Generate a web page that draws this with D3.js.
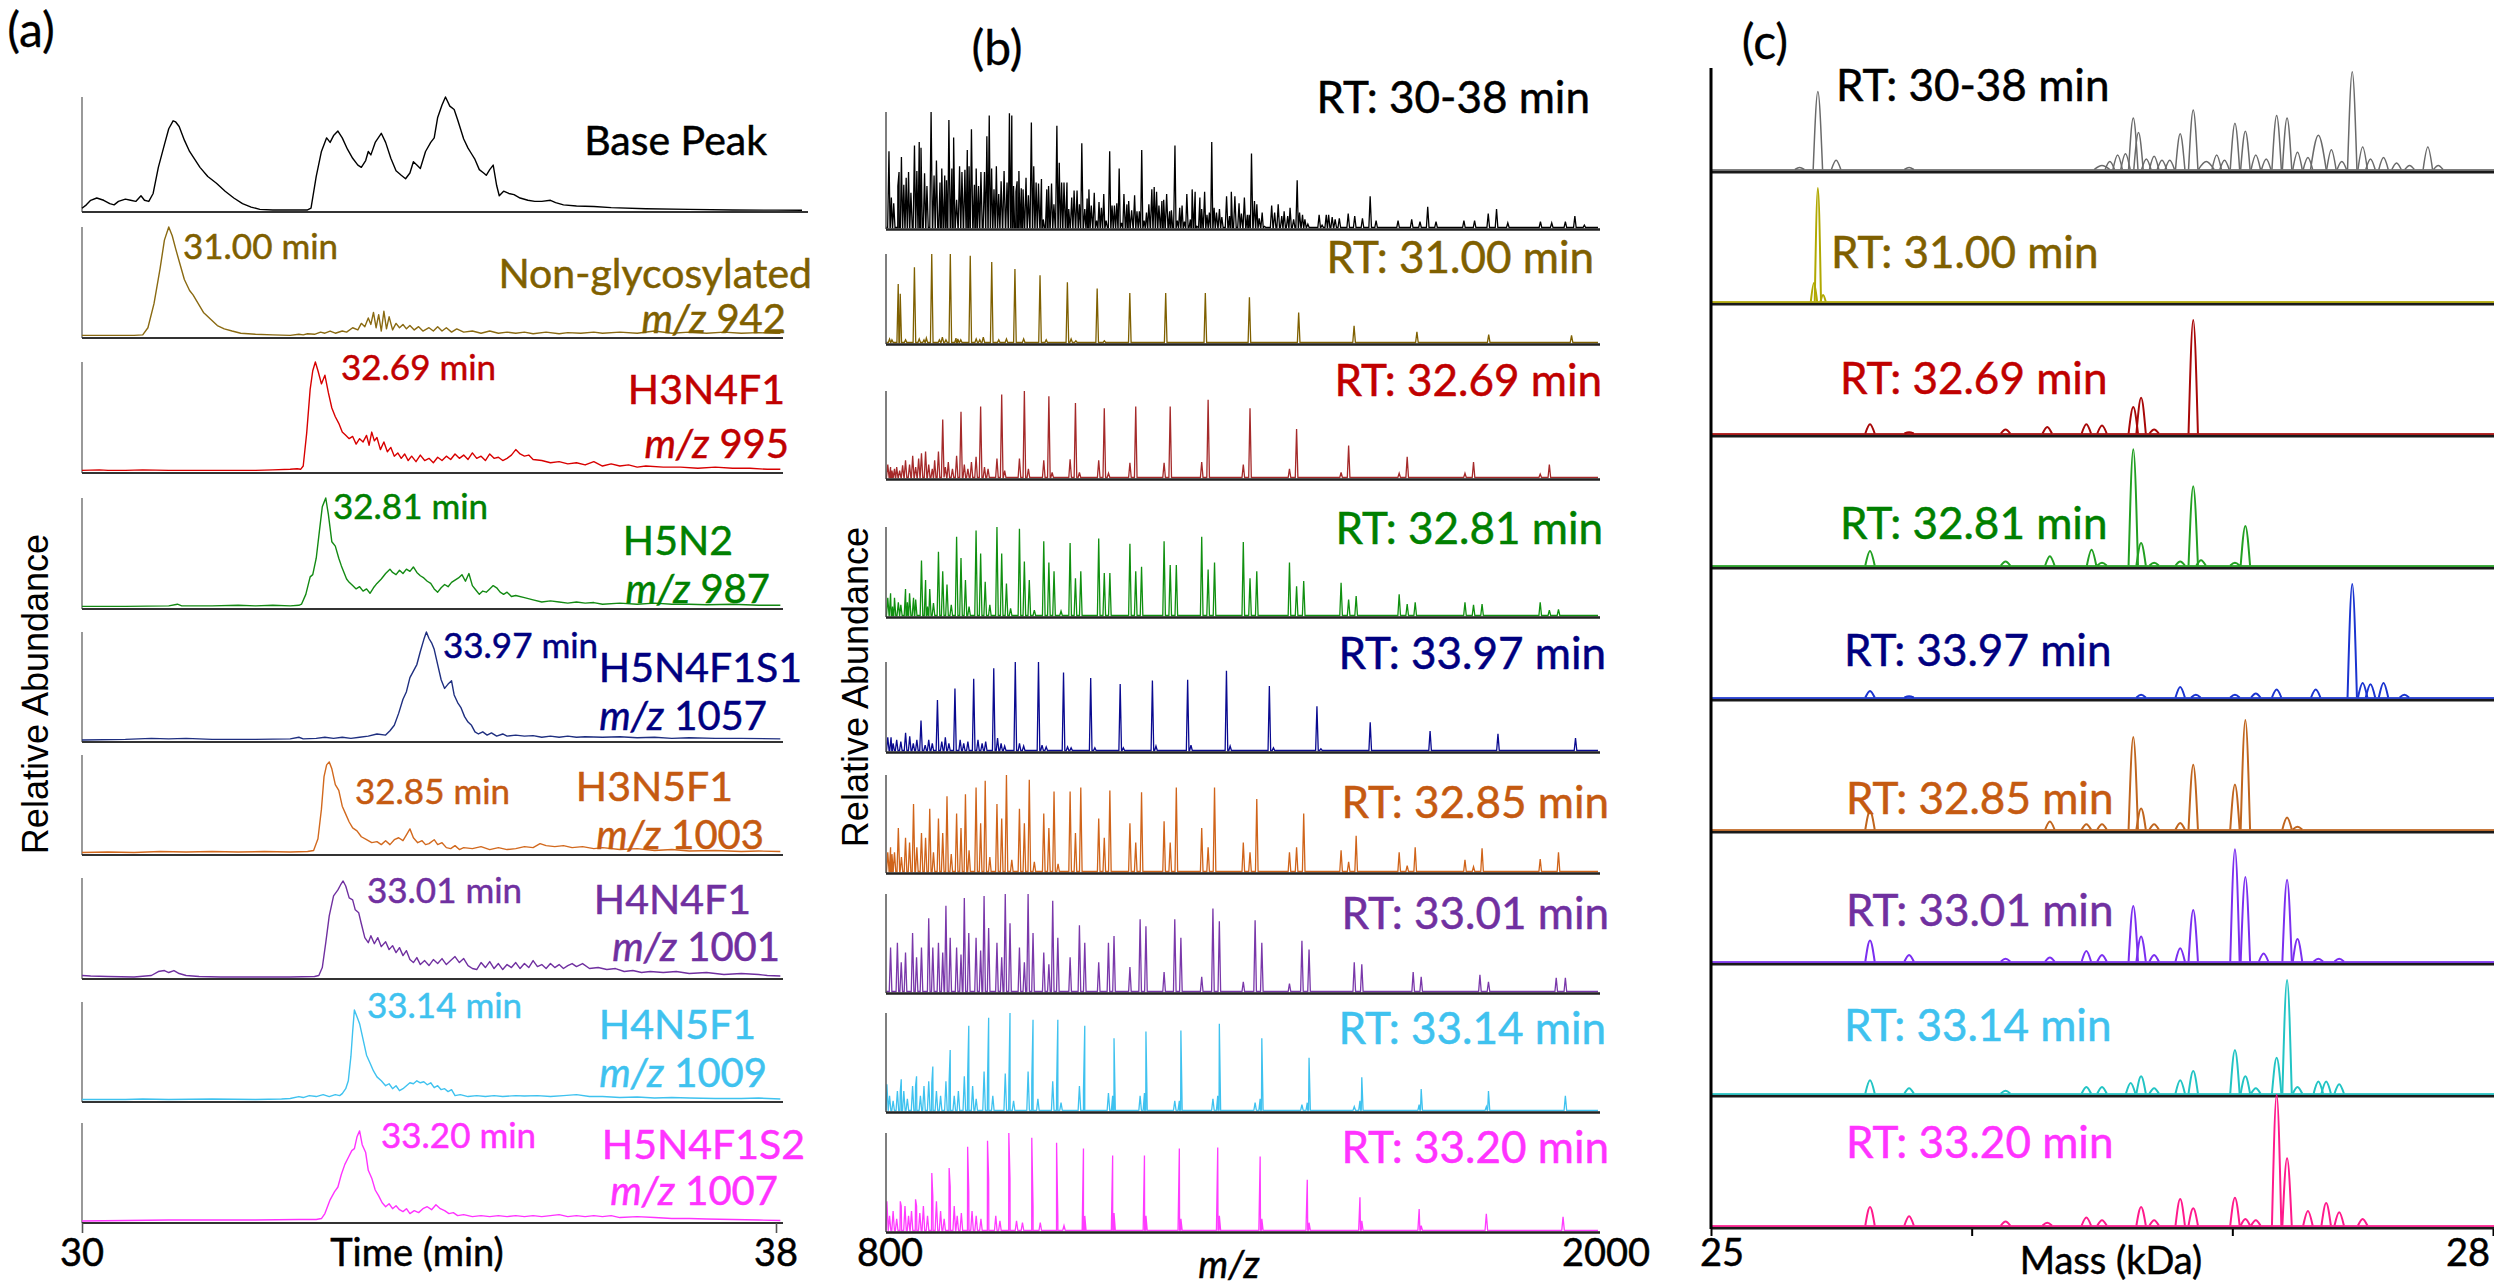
<!DOCTYPE html>
<html>
<head>
<meta charset="utf-8">
<script src="https://cdn.jsdelivr.net/npm/d3@7"></script>
<style>
  html, body { margin: 0; padding: 0; background: #ffffff; }
  svg { display: block; }
</style>
</head>
<body>
<script>
// ---------------------------------------------------------------
// Sample rows (top to bottom) and their annotations
// ---------------------------------------------------------------
const rowNames = ["Base Peak", "Non-glycosylated", "H3N4F1", "H5N2", "H5N4F1S1",
                  "H3N5F1", "H4N4F1", "H4N5F1", "H5N4F1S2"];
const retentionTimes = ["30-38", "31.00", "32.69", "32.81", "33.97", "32.85", "33.01", "33.14", "33.20"];
const precursorMz = [null, 942, 995, 987, 1057, 1003, 1001, 1009, 1007];

const timeTicks = [30, 38];
const mzTicks = [800, 2000];
const massTicks = [25, 26, 27, 28];
const massTickLabels = [25, 28];

// ---------------------------------------------------------------
// (a) extracted ion chromatograms: [time (min), relative abundance]
// ---------------------------------------------------------------
const xicBasePeak = [[30.0,2],[30.05,5],[30.1,9],[30.17,11],[30.25,9],[30.32,6],[30.37,5],[30.42,8],[30.5,10],[30.56,9],[30.62,8],[30.68,13],[30.72,9],[30.77,8],[30.82,15],[30.88,38],[30.95,58],[31.0,72],[31.05,79],[31.08,78],[31.12,74],[31.18,62],[31.24,52],[31.3,45],[31.36,38],[31.45,30],[31.55,24],[31.65,17],[31.75,11],[31.85,6],[31.95,3],[32.05,1],[32.2,0.5],[32.6,0.5],[32.64,2],[32.7,30],[32.76,52],[32.82,64],[32.86,60],[32.9,66],[32.95,70],[33.0,64],[33.06,54],[33.12,46],[33.18,40],[33.22,38],[33.27,44],[33.3,52],[33.33,49],[33.38,60],[33.45,68],[33.5,60],[33.56,46],[33.62,35],[33.68,31],[33.73,28],[33.78,33],[33.82,43],[33.86,40],[33.9,37],[33.96,52],[34.02,60],[34.06,64],[34.1,82],[34.15,93],[34.19,100],[34.24,92],[34.29,89],[34.33,80],[34.4,63],[34.45,55],[34.49,50],[34.53,45],[34.58,36],[34.63,33],[34.66,31],[34.7,36],[34.74,40],[34.78,22],[34.81,13],[34.86,17],[34.92,15],[34.98,14],[35.05,11],[35.14,9],[35.22,8],[35.3,8],[35.4,9],[35.46,7],[35.55,5],[35.7,4],[35.9,3.5],[36.1,2.5],[36.5,1.5],[37.0,1],[37.5,0.5],[38.0,0.3],[38.3,0.2]];

const xicNonGlyco = [[30.0,1],[30.3,1],[30.6,1],[30.7,1.5],[30.76,8],[30.83,30],[30.9,62],[30.95,88],[31.0,100],[31.04,92],[31.08,80],[31.13,66],[31.18,52],[31.24,42],[31.28,38],[31.34,30],[31.4,22],[31.48,16],[31.56,10],[31.64,7],[31.73,5],[31.83,3],[32.0,2],[32.2,1.5],[32.4,1],[32.5,2],[32.55,1.5],[32.6,2.5],[32.68,2],[32.75,4],[32.8,3],[32.86,5],[32.92,3],[33.0,5],[33.05,4],[33.12,8],[33.18,6],[33.22,12],[33.26,9],[33.3,17],[33.33,11],[33.36,22],[33.39,8],[33.42,20],[33.45,5],[33.48,23],[33.51,7],[33.54,18],[33.58,6],[33.62,12],[33.66,8],[33.7,11],[33.74,7],[33.78,10],[33.83,6],[33.88,9],[33.93,5],[34.0,8],[34.05,5],[34.1,9],[34.15,5],[34.2,8],[34.26,4],[34.32,7],[34.4,4],[34.5,5],[34.6,3],[34.7,5],[34.8,3],[34.9,4],[35.0,3],[35.1,4],[35.2,2.5],[35.35,4],[35.5,2.5],[35.6,3.5],[35.75,3],[35.9,4],[36.0,3],[36.2,4],[36.4,3],[36.6,5],[36.8,3],[37.0,4],[37.2,3],[37.4,4],[37.6,3],[37.8,3.5],[38.0,3],[38.05,3]];

const xicH3N4F1 = [[30.0,1],[30.2,1.5],[30.3,1],[30.5,1],[30.7,1.5],[31.0,1],[31.3,1],[31.7,1],[32.0,1],[32.2,1.5],[32.4,2],[32.48,2.5],[32.52,2],[32.55,5],[32.59,35],[32.63,75],[32.66,92],[32.69,100],[32.72,92],[32.76,80],[32.8,88],[32.84,72],[32.88,58],[32.92,50],[32.96,44],[33.0,36],[33.04,33],[33.08,30],[33.12,32],[33.16,25],[33.2,30],[33.24,27],[33.28,33],[33.31,24],[33.34,36],[33.37,28],[33.4,31],[33.44,20],[33.48,27],[33.52,18],[33.56,22],[33.6,14],[33.64,17],[33.68,12],[33.72,16],[33.76,10],[33.8,14],[33.85,9],[33.9,15],[33.95,10],[34.0,12],[34.05,8],[34.1,13],[34.15,10],[34.2,14],[34.25,11],[34.3,16],[34.35,12],[34.4,15],[34.45,11],[34.5,17],[34.55,12],[34.6,14],[34.65,10],[34.7,16],[34.75,12],[34.8,13],[34.85,10],[34.9,12],[34.95,15],[35.0,20],[35.05,16],[35.1,14],[35.15,15],[35.2,11],[35.3,10],[35.4,8],[35.5,9],[35.6,7],[35.7,8],[35.8,6],[35.9,9],[36.0,5],[36.1,7],[36.2,5],[36.3,6],[36.4,4],[36.5,5],[36.7,4],[36.9,4],[37.1,3],[37.3,4],[37.5,3],[37.7,3],[37.9,2],[38.05,2]];

const xicH5N2 = [[30.0,1],[30.5,1],[31.0,1.5],[31.1,3],[31.15,1.5],[31.5,1.5],[31.8,2],[32.0,1.5],[32.2,2],[32.4,1.5],[32.5,2],[32.53,3],[32.58,12],[32.63,28],[32.66,30],[32.7,45],[32.74,72],[32.77,92],[32.79,96],[32.81,100],[32.84,85],[32.88,60],[32.92,56],[32.96,45],[32.99,38],[33.02,32],[33.05,26],[33.08,23],[33.12,20],[33.16,17],[33.2,19],[33.24,15],[33.28,17],[33.32,13],[33.36,18],[33.4,22],[33.45,26],[33.5,31],[33.55,35],[33.58,32],[33.62,30],[33.66,34],[33.7,31],[33.74,35],[33.78,33],[33.82,37],[33.86,32],[33.9,29],[33.94,27],[33.98,24],[34.02,22],[34.06,17],[34.1,14],[34.14,18],[34.18,21],[34.22,19],[34.26,23],[34.3,25],[34.34,27],[34.38,30],[34.42,24],[34.46,31],[34.5,20],[34.54,16],[34.58,12],[34.62,15],[34.66,14],[34.7,17],[34.74,20],[34.78,18],[34.82,14],[34.86,12],[34.9,14],[34.95,10],[35.0,11],[35.1,9],[35.2,7],[35.3,5],[35.4,6],[35.5,5],[35.6,4],[35.7,5],[35.8,4],[35.9,4.5],[36.0,3],[36.2,4],[36.4,3],[36.6,4],[36.8,3],[37.0,3],[37.2,2.5],[37.5,3],[37.8,2],[38.05,2]];

const xicH5N4F1S1 = [[30.0,0.5],[30.5,1],[30.8,2],[31.0,1.5],[31.2,2],[31.5,1],[32.0,1],[32.4,1.5],[32.5,3],[32.55,1.5],[32.7,2],[32.8,3],[32.9,2],[33.0,3],[33.1,2],[33.2,3],[33.3,4],[33.4,6],[33.5,5],[33.55,9],[33.6,14],[33.65,25],[33.7,38],[33.74,45],[33.78,58],[33.82,64],[33.86,70],[33.9,82],[33.94,93],[33.97,100],[34.0,94],[34.03,90],[34.06,84],[34.1,70],[34.14,56],[34.18,48],[34.22,52],[34.26,55],[34.29,42],[34.33,35],[34.37,30],[34.41,22],[34.45,17],[34.49,14],[34.53,8],[34.57,6],[34.62,8],[34.67,5],[34.72,7],[34.78,4],[34.85,6],[34.9,4],[35.0,5],[35.1,4],[35.2,4.5],[35.3,3],[35.4,4],[35.5,3],[35.6,4],[35.7,3],[35.8,3.5],[36.0,3],[36.2,3.5],[36.4,2.5],[36.6,3],[36.8,2],[37.0,2.5],[37.3,2],[37.6,2],[38.05,1.5]];

const xicH3N5F1 = [[30.0,1],[30.3,1.5],[30.6,1],[30.9,2],[31.2,1.5],[31.5,2],[31.8,1.5],[32.1,2],[32.4,1.5],[32.6,2],[32.67,3],[32.72,15],[32.76,45],[32.79,78],[32.82,90],[32.85,93],[32.88,86],[32.92,70],[32.96,64],[33.0,48],[33.04,40],[33.08,32],[33.12,26],[33.17,23],[33.22,17],[33.28,14],[33.34,11],[33.4,12],[33.45,9],[33.5,13],[33.55,9],[33.6,14],[33.65,16],[33.7,13],[33.74,19],[33.78,25],[33.82,16],[33.87,11],[33.92,13],[33.96,9],[34.0,10],[34.06,14],[34.1,9],[34.15,11],[34.2,6],[34.25,5],[34.3,8],[34.35,4],[34.4,6],[34.5,5],[34.6,7],[34.7,4],[34.8,6],[34.9,4],[35.0,5],[35.1,7],[35.2,6],[35.28,10],[35.35,8],[35.45,7],[35.55,8],[35.65,6],[35.77,7],[35.9,5],[36.0,6],[36.2,4],[36.4,5],[36.6,3],[36.8,4],[37.0,2.5],[37.3,3],[37.6,2],[37.8,2.5],[38.05,2]];

const xicH4N4F1 = [[30.0,2],[30.1,1.5],[30.3,1],[30.6,0.5],[30.8,2],[30.88,6],[30.95,7],[31.0,5],[31.06,7],[31.12,4],[31.2,2],[31.35,1],[31.6,0.5],[32.0,0.5],[32.4,0.5],[32.68,1],[32.73,2],[32.77,10],[32.81,35],[32.85,62],[32.9,82],[32.95,88],[32.98,93],[33.01,97],[33.04,92],[33.08,80],[33.12,78],[33.15,68],[33.19,65],[33.22,54],[33.26,40],[33.3,35],[33.33,42],[33.37,34],[33.41,40],[33.45,31],[33.5,36],[33.54,28],[33.58,32],[33.62,25],[33.66,30],[33.7,22],[33.74,27],[33.78,18],[33.82,15],[33.86,20],[33.9,13],[33.95,17],[34.0,12],[34.05,18],[34.1,14],[34.15,19],[34.2,13],[34.25,17],[34.3,21],[34.35,15],[34.4,19],[34.45,12],[34.5,9],[34.55,8],[34.6,15],[34.65,10],[34.7,16],[34.75,9],[34.8,14],[34.85,8],[34.9,13],[34.95,10],[35.0,15],[35.05,9],[35.1,14],[35.15,10],[35.2,17],[35.25,11],[35.3,13],[35.35,9],[35.4,14],[35.45,10],[35.5,13],[35.55,9],[35.6,12],[35.65,14],[35.7,11],[35.77,14],[35.85,9],[35.95,10],[36.05,8],[36.15,9],[36.25,6],[36.35,7],[36.45,5],[36.55,6],[36.7,5],[36.85,6],[37.0,4],[37.2,5],[37.4,3],[37.6,4],[37.8,3],[37.9,2],[38.05,1.5]];

const xicH4N5F1 = [[30.0,1],[30.5,1],[30.7,1.5],[31.0,1],[31.5,1.5],[32.0,1],[32.3,1.5],[32.4,2],[32.5,4],[32.55,3],[32.62,5],[32.7,4],[32.78,6],[32.85,4],[32.92,6],[32.97,5],[33.0,7],[33.04,12],[33.07,20],[33.1,45],[33.12,70],[33.14,92],[33.17,85],[33.2,78],[33.24,62],[33.28,46],[33.32,38],[33.36,30],[33.4,24],[33.45,20],[33.5,15],[33.54,17],[33.58,12],[33.62,15],[33.66,10],[33.7,12],[33.74,15],[33.78,18],[33.82,17],[33.86,20],[33.9,18],[33.94,19],[33.98,16],[34.02,18],[34.06,13],[34.1,15],[34.14,11],[34.18,12],[34.22,9],[34.26,11],[34.3,5],[34.36,6],[34.45,4],[34.55,5],[34.65,4],[34.75,5],[34.85,4],[35.0,5],[35.1,4.5],[35.25,5],[35.4,4],[35.55,5],[35.7,6],[35.85,4],[36.0,4],[36.2,3],[36.4,3.5],[36.6,2.5],[36.8,3],[37.0,2.5],[37.3,2],[37.6,2],[37.8,2.5],[38.05,1.5]];

const xicH5N4F1S2 = [[30.0,0.5],[30.5,1],[31.0,1.5],[31.5,1.5],[32.0,1.5],[32.5,2],[32.7,2],[32.76,3],[32.8,8],[32.86,22],[32.91,30],[32.95,35],[32.99,48],[33.03,58],[33.07,65],[33.11,72],[33.14,74],[33.17,86],[33.2,92],[33.23,78],[33.27,70],[33.3,52],[33.34,44],[33.38,32],[33.42,26],[33.46,19],[33.5,15],[33.54,18],[33.58,13],[33.62,16],[33.66,12],[33.7,10],[33.74,13],[33.78,8],[33.83,11],[33.88,9],[33.93,13],[33.98,15],[34.03,12],[34.08,17],[34.13,13],[34.18,11],[34.23,8],[34.28,9],[34.33,6],[34.4,7],[34.5,5],[34.6,6],[34.7,5],[34.8,6],[34.9,5],[35.0,6],[35.1,5],[35.2,6],[35.3,5],[35.4,6],[35.5,7],[35.6,5],[35.7,6],[35.8,5],[35.9,6],[36.0,5],[36.1,6],[36.2,4],[36.4,5],[36.6,4],[36.8,3],[37.0,3],[37.2,2.5],[37.5,2],[37.8,1.5],[38.05,1]];

// ---------------------------------------------------------------
// (b) mass spectra: [m/z, relative abundance]
// ---------------------------------------------------------------
const msAll = [[805,66],[809,26],[813,21],[820,36],[822,48],[826,61],[830,37],[834,43],[838,48],[842,30],[848,71],[852,49],[856,74],[859,69],[865,47],[869,36],[876,100],[881,45],[885,58],[891,39],[894,51],[899,45],[902,41],[906,93],[911,51],[914,78],[919,24],[924,53],[928,48],[933,50],[937,67],[940,53],[944,85],[949,37],[952,51],[956,36],[960,48],[966,48],[970,79],[974,97],[978,51],[982,33],[986,53],[990,29],[994,40],[999,49],[1004,39],[1008,99],[1012,97],[1015,36],[1019,31],[1021,40],[1024,49],[1028,34],[1031,33],[1036,43],[1040,28],[1045,91],[1049,53],[1053,39],[1057,38],[1062,42],[1065,7],[1071,33],[1074,36],[1079,38],[1083,20],[1088,88],[1092,56],[1096,39],[1100,39],[1105,39],[1108,16],[1113,26],[1117,32],[1122,32],[1126,20],[1130,73],[1135,16],[1139,25],[1142,33],[1146,19],[1151,30],[1155,6],[1159,22],[1163,17],[1167,29],[1171,6],[1177,66],[1181,19],[1185,19],[1189,21],[1193,51],[1197,4],[1201,29],[1206,20],[1209,23],[1214,15],[1219,28],[1223,14],[1227,14],[1231,67],[1235,6],[1239,13],[1243,20],[1248,33],[1252,35],[1256,31],[1260,19],[1265,23],[1268,24],[1273,29],[1278,14],[1281,15],[1287,71],[1291,6],[1295,17],[1299,19],[1303,5],[1307,29],[1313,7],[1316,33],[1321,31],[1324,1],[1329,26],[1332,16],[1337,31],[1341,11],[1345,13],[1349,74],[1353,17],[1357,13],[1362,16],[1366,9],[1374,27],[1379,10],[1382,31],[1388,27],[1395,21],[1399,12],[1404,26],[1409,11],[1412,11],[1416,64],[1421,23],[1425,20],[1429,8],[1434,13],[1438,1],[1450,19],[1455,13],[1461,20],[1467,10],[1471,14],[1477,10],[1481,17],[1487,7],[1493,41],[1497,13],[1502,11],[1506,7],[1511,3],[1530,11],[1535,2],[1542,11],[1546,11],[1552,9],[1557,7],[1564,8],[1579,12],[1590,10],[1603,8],[1616,27],[1626,6],[1663,6],[1686,7],[1700,5],[1713,18],[1727,5],[1774,6],[1792,6],[1815,12],[1829,16],[1848,4],[1903,5],[1922,4],[1945,5],[1961,10],[1977,2]];

const msNonGlyco = [[820.6,66],[824,55],[847.9,85],[877.1,100],[908.4,100],[942.0,98],[978.2,91],[1017.3,83],[1059.6,76],[1105.7,68],[1155.9,61],[1210.9,56],[1271.4,56],[1338.2,56],[1412.5,51],[1495.5,34],[1588.9,19],[1694.8,12],[1815.8,9],[1955.4,8],
  [806,4],[810,3],[833,3],[856,4],[864,3],[868,5],[890,3],[895,6],[901,3],[918,5],[921,4],[926,3],[952,4],[958,3],[964,6],[990,3],[1003,4],[1032,4],[1070,3],[1112,4],[1120,2],[1168,2]];

const msH3N4F1 = [[814.3,10],[839.7,15],[866.7,30],[895.6,67],[926.4,76],[959.5,82],[995.0,96],[1033.2,100],[1074.5,94],[1119.3,86],[1167.9,80],[1220.9,82],[1279.0,82],[1342.9,90],[1413.5,80],[1492.0,56],[1579.7,37],[1678.4,24],[1790.2,18],[1918.0,15],
  [807.7,12],[832.9,20],[859.8,28],[888.4,30],[919.0,25],[951.8,24],[987.0,22],[1024.9,22],[1065.9,20],[1110.3,21],[1158.5,20],[1211.1,17],[1268.7,17],[1332.1,18],[1402.2,15],[1480.0,10],[1567.0,6],[1664.9,5],[1775.8,5],[1902.6,4],
  [803,15],[810,8],[818,12],[823,8],[828,14],[845,25],[850,12],[855,22],[872,15],[878,10],[882,20],[900,12],[905,18],[912,10],[932,15],[938,10],[944,18],[966,12],[972,10],[1000,8],[1040,10],[1080,6],[1126,6],[1175,5]];

const msH5N2 = [[807.7,25],[832.9,30],[859.8,62],[888.4,72],[919.0,89],[951.8,96],[987.0,100],[1024.9,98],[1065.9,84],[1110.3,82],[1158.5,87],[1211.1,81],[1268.7,84],[1332.1,89],[1402.2,83],[1480.0,60],[1567.0,37],[1664.9,24],[1775.8,15],[1902.6,15],
  [814.3,20],[839.7,25],[866.7,40],[895.6,50],[926.4,65],[959.5,70],[995.0,70],[1033.2,61],[1074.5,60],[1119.3,42],[1167.9,48],[1220.9,50],[1279.0,57],[1342.9,52],[1413.5,42],[1492.0,33],[1579.7,18],[1678.4,13],[1790.2,12],[1918.0,6],
  [820.8,15],[846.4,20],[873.7,30],[902.8,35],[933.9,40],[967.2,38],[1003.0,36],[1041.5,40],[1083.2,50],[1128.3,50],[1177.3,48],[1230.7,55],[1289.3,57],[1353.7,60],[1424.9,50],[1504.0,39],[1592.4,22],[1691.9,15],[1804.6,13],[1933.4,7],
  [803,20],[811,10],[825,12],[836,15],[850,18],[870,10],[880,14],[910,12],[940,10],[975,12],[1010,8],[1050,6],[1095,5]];

const msH5N4F1S1 = [[808.5,15],[833.0,20],[859.0,34],[886.7,57],[916.2,70],[947.8,81],[981.6,93],[1017.9,100],[1057.0,100],[1099.2,88],[1145.0,82],[1194.7,75],[1249.0,79],[1308.4,80],[1373.8,90],[1446.1,73],[1526.3,50],[1616.1,32],[1717.0,22],[1831.4,19],[1962.1,14],
  [803,15],[812,8],[818,12],[825,10],[840,16],[846,8],[852,12],[866,6],[872,12],[878,8],[894,10],[900,15],[906,8],[925,12],[931,8],[938,10],[955,12],[962,8],[968,10],[988,14],[994,8],[1000,5],[1025,8],[1032,5],[1063,6],[1070,4],[1106,4],[1112,3],[1152,3],[1200,3],[1255,5],[1314,6],[1380,5],[1453,3],[1533,2]];

const msH3N5F1 = [[820.8,45],[846.4,70],[873.7,65],[902.8,78],[933.9,80],[967.2,94],[1003.0,100],[1041.5,95],[1083.2,83],[1128.3,87],[1177.3,84],[1230.7,82],[1289.3,87],[1353.7,87],[1424.9,75],[1504.0,60],[1592.4,37],[1691.9,25],[1804.6,24],[1933.4,20],
  [807.7,25],[832.9,35],[859.8,40],[888.4,55],[919.0,60],[951.8,87],[987.0,70],[1024.9,65],[1065.9,60],[1110.3,83],[1158.5,55],[1211.1,50],[1268.7,52],[1332.1,45],[1402.2,30],[1480.0,20],[1567.0,22],[1664.9,20],[1775.8,12],[1902.6,13],
  [814.3,20],[839.7,30],[866.7,35],[895.6,40],[926.4,45],[959.5,50],[995.0,55],[1033.2,50],[1074.5,45],[1119.3,40],[1167.9,35],[1220.9,30],[1279.0,30],[1342.9,25],[1413.5,20],[1492.0,25],[1579.7,10],[1678.4,6],[1790.2,5],
  [803,20],[810,18],[826,15],[852,25],[880,20],[910,18],[940,22],[975,15],[1012,12],[1050,10],[1090,8]];

const msH4N4F1 = [[819.2,50],[844.8,60],[872.0,75],[901.0,88],[932.0,96],[965.3,98],[1001.0,100],[1039.5,100],[1081.0,93],[1126.0,68],[1174.9,50],[1228.3,74],[1286.7,74],[1351.0,85],[1422.1,73],[1501.0,52],[1589.2,30],[1688.5,20],[1801.0,17],[1929.6,14],
  [825.7,30],[851.5,35],[878.9,45],[908.2,55],[939.5,60],[973.0,65],[1009.0,70],[1047.8,60],[1089.6,55],[1135.0,50],[1184.3,57],[1238.1,67],[1297.0,55],[1361.8,72],[1433.4,50],[1513.0,43],[1601.9,28],[1702.0,15],[1815.4,10],[1945.0,14],
  [807.7,45],[832.9,40],[859.8,45],[888.4,50],[919.0,45],[951.8,55],[987.0,50],[1024.9,45],[1065.9,40],[1110.3,35],[1158.5,30],[1211.1,25],[1268.7,20],[1332.1,15],[1402.2,10],[1480.0,8],
  [895.6,40],[926.4,38],[959.5,42],[995.0,35],[1033.2,30],[1074.5,28]];

const msH4N5F1 = [[801.5,27],[825.7,32],[851.5,35],[878.9,45],[908.2,62],[939.5,87],[973.0,95],[1009.0,100],[1047.8,93],[1089.6,93],[1135.0,87],[1184.3,74],[1238.1,81],[1297.0,82],[1361.8,89],[1433.4,74],[1513.0,54],[1601.9,34],[1702.0,22],[1815.4,20],[1945.0,15],
  [819.2,20],[844.8,25],[872.0,30],[901.0,30],[932.0,35],[965.3,40],[1001.0,38],[1039.5,40],[1081.0,30],[1126.0,25],[1174.9,18],[1228.3,15],[1286.7,10],[1351.0,12],[1422.1,8],[1501.0,6],[1589.2,4],
  [824.1,20],[849.8,25],[877.2,28],[906.4,30],[937.6,35],[971.1,30],[1007.0,25],[1045.7,30],[1087.5,22],[1132.8,20],[1182.0,15],[1235.6,18],[1294.4,10],[1359.1,15],[1430.6,12],[1510.0,8],[1598.8,10],[1698.6,6],[1811.8,4],
  [806,15],[812,10],[830,20],[836,12],[858,15],[864,25],[885,20],[892,15],[915,15],[922,20],[946,25],[952,12],[980,15],[1015,10],[1056,12],[1095,8]];

const msH5N4F1S2 = [[824.1,30],[849.8,32],[877.2,59],[906.4,64],[937.6,86],[971.1,92],[1007.0,100],[1045.7,95],[1087.5,90],[1132.8,84],[1182.0,77],[1235.6,77],[1294.4,84],[1359.1,85],[1430.6,76],[1510.0,52],[1598.8,34],[1698.6,22],[1811.8,17],[1941.1,14],
  [801.5,30],[825.7,25],[851.5,25],[878.9,35],[908.2,45],[939.5,40],[973.0,53],[1009.0,53],[1047.8,25],[1089.6,15],[1135.0,15],[1184.3,18],[1238.1,15],[1297.0,12],[1361.8,15],[1433.4,12],[1513.0,8],[1601.9,10],[1702.0,5],
  [806,15],[812,20],[818,12],[832,25],[838,15],[843,20],[857,18],[863,25],[870,15],[885,30],[892,20],[898,12],[915,25],[920,15],[927,18],[945,20],[952,15],[960,12],[985,15],[992,10],[1020,10],[1030,8],[1060,8],[1100,5]];

// ---------------------------------------------------------------
// (c) deconvoluted spectra: [mass (kDa), relative abundance, optional half width (kDa)]
// ---------------------------------------------------------------
const deconvAll = [[25.34,1.5],[25.41,59],[25.48,7],[25.76,1.5],[26.50,3,0.03],[26.53,6],[26.56,11],[26.59,12],[26.62,39],[26.64,28],[26.67,8],[26.70,10],[26.73,7],[26.76,7],[26.80,27],[26.85,45],[26.90,6,0.03],[26.94,11],[26.97,7],[27.01,35],[27.05,29],[27.09,11],[27.13,8],[27.17,41],[27.21,39],[27.25,13],[27.29,9],[27.33,26,0.03],[27.38,15],[27.42,6],[27.46,74],[27.50,17],[27.53,8],[27.58,9],[27.63,5],[27.68,3],[27.75,17],[27.79,3]];
const deconvNonGlyco = [[25.395,14,0.012],[25.41,86,0.012],[25.43,5,0.01]];
const deconvH3N4F1 = [[25.61,7],[25.76,1],[26.13,3],[26.29,5],[26.44,7],[26.50,6],[26.62,20],[26.65,27],[26.70,3],[26.85,86]];
const deconvH5N2 = [[25.61,11],[26.13,3],[26.30,7],[26.46,12],[26.50,2],[26.62,88],[26.65,17],[26.70,2],[26.80,3],[26.85,60],[26.88,4],[27.01,2],[27.05,30]];
const deconvH5N4F1S1 = [[25.61,5],[25.76,1],[26.65,2],[26.80,8],[26.86,2],[27.01,2],[27.09,3],[27.17,6],[27.32,6],[27.46,86],[27.50,11],[27.53,10],[27.58,11],[27.66,2]];
const deconvH3N5F1 = [[25.61,14],[26.30,6],[26.44,4],[26.50,4],[26.62,70],[26.65,16],[26.70,4],[26.80,5],[26.85,49],[27.01,34],[27.05,83],[27.21,9],[27.25,2]];
const deconvH4N4F1 = [[25.61,16],[25.76,5],[26.13,2],[26.30,3],[26.44,8],[26.50,5],[26.62,42],[26.65,19],[26.70,5],[26.80,10],[26.85,39],[27.01,85],[27.05,64],[27.12,6],[27.21,62],[27.25,17],[27.33,2],[27.41,2]];
const deconvH4N5F1 = [[25.61,10],[25.76,4],[26.13,2],[26.44,5],[26.50,5],[26.61,8],[26.65,13],[26.70,4],[26.80,10],[26.85,17],[27.01,33],[27.05,13],[27.09,4],[27.17,27],[27.21,86],[27.25,5],[27.33,9],[27.36,9],[27.41,7]];
const deconvH5N4F1S2 = [[25.61,14],[25.76,7],[26.13,3],[26.29,2],[26.44,6],[26.50,4],[26.65,14],[26.70,4],[26.80,20],[26.85,13],[27.01,21],[27.05,5],[27.09,4],[27.17,99],[27.21,51],[27.29,11],[27.36,17],[27.41,10],[27.50,5]];

// ---------------------------------------------------------------
// Styles
// ---------------------------------------------------------------
const labelColors = ["#000000", "#7f6000", "#c00000", "#008000", "#000080", "#c55a11", "#7030a0", "#3fc2ef", "#ff33ff"];
const lineColorsA = ["#000000", "#8a6a12", "#d80000", "#138a13", "#1f2f80", "#d2691e", "#7030a0", "#3fc2ef", "#ff33ff"];
const lineColorsB = ["#000000", "#7f6000", "#a52a2a", "#109010", "#0a0a90", "#d0641a", "#7a38aa", "#3fc2ef", "#ff3cff"];
const lineColorsC = ["#6a6a6a", "#b0a800", "#a80808", "#22a022", "#1a34d0", "#c0651e", "#7b2ff0", "#22c4c4", "#ff1a8c"];

const FONT = "Lato, 'Open Sans', sans-serif";
const FONT_ARIAL = "'Liberation Sans', Arial, sans-serif";

// Row geometry: [axis top, baseline]
const rowsA = [[97,212],[227,338],[362,473],[498,609],[632,742],[755,855],[878,979],[1002,1102],[1123,1223]];
const rowsB = [[112,229],[254,344],[391,479],[527,617],[662,752],[775,873],[894,993],[1013,1112],[1133,1232]];
const baseC0 = 171, pitchC = 132;

// Label anchor points
const peakLabelA = [null,[183,246],[341,367],[333,506],[443,645],[355,791],[367,890],[367,1005],[381,1135]];
const nameLabelA = [[767,140],[812,273],[785,389],[733,540],[802,667],[733,786],[751,899],[756,1024],[805,1144]];
const mzLabelA = [null,[786,319],[789,444],[770,589],[767,716],[764,835],[780,947],[767,1073],[778,1191]];
const rtLabelB = [[1590,97],[1594,257],[1602,380],[1603,528],[1606,653],[1609,802],[1609,913],[1606,1028],[1609,1147]];
const rtLabelC = [[1836,85],[1831,252],[1840,378],[1840,523],[1844,650],[1846,798],[1846,910],[1844,1025],[1846,1142]];

const xicSeries = [xicBasePeak, xicNonGlyco, xicH3N4F1, xicH5N2, xicH5N4F1S1, xicH3N5F1, xicH4N4F1, xicH4N5F1, xicH5N4F1S2];
const msSeries = [msAll, msNonGlyco, msH3N4F1, msH5N2, msH5N4F1S1, msH3N5F1, msH4N4F1, msH4N5F1, msH5N4F1S2];
const deconvSeries = [deconvAll, deconvNonGlyco, deconvH3N4F1, deconvH5N2, deconvH5N4F1S1, deconvH3N5F1, deconvH4N4F1, deconvH4N5F1, deconvH5N4F1S2];

// ---------------------------------------------------------------
const svg = d3.select("body").append("svg").attr("width", 2494).attr("height", 1288);
svg.append("rect").attr("width", 2494).attr("height", 1288).attr("fill", "#fff");

// text helper: y is the visual centre of capitals; a hairline stroke gives the
// slightly heavier weight of the annotation font
function addText(g, x, y, str, size, color, anchor, opts = {}) {
  return g.append("text")
    .attr("x", x).attr("y", y + 0.36 * size)
    .attr("font-family", opts.family || FONT)
    .attr("font-size", size)
    .attr("font-style", opts.italic ? "italic" : null)
    .attr("text-anchor", anchor || "start")
    .attr("fill", color)
    .attr("stroke", color).attr("stroke-width", opts.stroke == null ? 0.5 : opts.stroke)
    .text(str);
}
function addMzText(g, x, y, mz, size, color) {
  const t = g.append("text")
    .attr("x", x).attr("y", y + 0.36 * size)
    .attr("font-family", FONT).attr("font-size", size)
    .attr("text-anchor", "end").attr("fill", color)
    .attr("stroke", color).attr("stroke-width", 0.5);
  t.append("tspan").attr("font-style", "italic").text("m/z");
  t.append("tspan").text(" " + mz);
}
function axisText(g, x, y, str, anchor, italic) {
  return g.append("text").attr("x", x).attr("y", y)
    .attr("font-family", FONT).attr("font-size", 38)
    .attr("font-style", italic ? "italic" : null)
    .attr("text-anchor", anchor).attr("fill", "#000")
    .attr("stroke", "#000").attr("stroke-width", 0.5)
    .text(str);
}

// ===================== (a) chromatograms =====================
const gA = svg.append("g");
const xA = d3.scaleLinear().domain([30, 38]).range([82, 776]);
xicSeries.forEach((data, i) => {
  const [top, base] = rowsA[i];
  const y = d3.scaleLinear().domain([0, 100]).range([base - 1.5, top]);
  gA.append("line").attr("x1", xA(30)).attr("x2", xA(30)).attr("y1", top).attr("y2", base)
    .attr("stroke", "#808080").attr("stroke-width", 1.6);
  gA.append("line").attr("x1", xA(30)).attr("x2", i === 0 ? 808 : 783).attr("y1", base).attr("y2", base)
    .attr("stroke", "#333").attr("stroke-width", 2.2);
  gA.append("path").datum(data)
    .attr("fill", "none").attr("stroke", lineColorsA[i]).attr("stroke-width", 1.4)
    .attr("stroke-linejoin", "round")
    .attr("d", d3.line().x(d => xA(d[0])).y(d => y(d[1])));

  if (i > 0) {
    const [px, py] = peakLabelA[i];
    addText(gA, px, py, retentionTimes[i] + " min", 35, labelColors[i], "start");
    const [mx, my] = mzLabelA[i];
    addMzText(gA, mx, my, precursorMz[i], 40, labelColors[i]);
  }
  const [nx, ny] = nameLabelA[i];
  addText(gA, nx, ny, rowNames[i], 41, labelColors[i], "end");
});
// time axis
const axA = gA.append("g").attr("transform", `translate(0,${rowsA[8][1]})`)
  .call(d3.axisBottom(xA).tickValues(timeTicks).tickSize(10).tickFormat(""));
axA.select(".domain").remove();
axA.selectAll(".tick line").attr("stroke", "#555").attr("stroke-width", 1.6);
timeTicks.forEach(t => axisText(gA, xA(t), 1266, t, "middle"));
axisText(gA, 417, 1266, "Time (min)", "middle");
gA.append("text").attr("transform", "translate(48,694) rotate(-90)")
  .attr("font-family", FONT_ARIAL).attr("font-size", 36).attr("text-anchor", "middle")
  .attr("fill", "#000").text("Relative Abundance");
addText(gA, 31, 30, "(a)", 48, "#000", "middle", { stroke: 0.3 });

// ===================== (b) mass spectra =====================
const gB = svg.append("g");
const xB = d3.scaleLinear().domain([800, 2000]).range([886, 1598]);
const stickHalfWidth = 2.2;   // m/z units
function stickPoints(peaks) {
  const pts = [];
  peaks.forEach(([m, h]) => { pts.push([m - stickHalfWidth, 0], [m, h], [m + stickHalfWidth, 0]); });
  pts.push([800, 0], [2000, 0]);
  pts.sort((a, b) => a[0] - b[0]);
  return pts.filter(p => p[0] >= 800 && p[0] <= 2000);
}
msSeries.forEach((peaks, i) => {
  const [top, base] = rowsB[i];
  const y = d3.scaleLinear().domain([0, 100]).range([base - 1.5, top]);
  gB.append("path").datum(stickPoints(peaks))
    .attr("fill", "none").attr("stroke", lineColorsB[i]).attr("stroke-width", 1.3)
    .attr("stroke-linejoin", "miter")
    .attr("d", d3.line().x(d => xB(d[0])).y(d => y(d[1])));
  gB.append("line").attr("x1", xB(800)).attr("x2", xB(800)).attr("y1", top).attr("y2", base)
    .attr("stroke", "#555").attr("stroke-width", 1.5);
  gB.append("line").attr("x1", xB(800)).attr("x2", xB(2000) + 2).attr("y1", base + 0.5).attr("y2", base + 0.5)
    .attr("stroke", "#222").attr("stroke-width", 2.4);
  const [rx, ry] = rtLabelB[i];
  addText(gB, rx, ry, "RT: " + retentionTimes[i] + " min", 44, labelColors[i], "end");
});
mzTicks.forEach((t, k) => axisText(gB, xB(t) + (k === 0 ? 4 : 8), 1266, t, "middle"));
axisText(gB, 1229, 1278, "m/z", "middle", true);
gB.append("text").attr("transform", "translate(868,687) rotate(-90)")
  .attr("font-family", FONT_ARIAL).attr("font-size", 36).attr("text-anchor", "middle")
  .attr("fill", "#000").text("Relative Abundance");
addText(gB, 997, 48, "(b)", 48, "#000", "middle", { stroke: 0.3 });

// ===================== (c) deconvoluted masses =====================
const gC = svg.append("g");
const xC = d3.scaleLinear().domain([25, 28]).range([1711, 2493]);
const peakLine = d3.line().curve(d3.curveMonotoneX);
deconvSeries.forEach((peaks, i) => {
  const base = baseC0 + i * pitchC;
  const y = d3.scaleLinear().domain([0, 100]).range([base - 1.5, base - 1.5 - 132]);
  gC.append("line").attr("x1", 1711).attr("x2", 2494).attr("y1", base + 1).attr("y2", base + 1)
    .attr("stroke", "#1a1a1a").attr("stroke-width", 3);
  gC.append("line").attr("x1", 1711).attr("x2", 2494).attr("y1", base - 1).attr("y2", base - 1)
    .attr("stroke", lineColorsC[i]).attr("stroke-width", 1.8).attr("opacity", 0.85);
  peaks.forEach(p => {
    const hw = p[2] || 0.018;
    const pts = [[p[0] - hw, 0], [p[0], p[1]], [p[0] + hw, 0]].map(d => [xC(d[0]), y(d[1])]);
    gC.append("path").attr("d", peakLine(pts))
      .attr("fill", "none").attr("stroke", lineColorsC[i])
      .attr("stroke-width", i === 0 ? 1.5 : 2).attr("stroke-linejoin", "round");
  });
  const [lx, ly] = rtLabelC[i];
  addText(gC, lx, ly, "RT: " + retentionTimes[i] + " min", 44, labelColors[i], "start");
});
gC.append("line").attr("x1", 1711).attr("x2", 1711).attr("y1", 68).attr("y2", baseC0 + 8 * pitchC + 2)
  .attr("stroke", "#000").attr("stroke-width", 3);
const axC = gC.append("g").attr("transform", `translate(0,${baseC0 + 8 * pitchC + 2})`)
  .call(d3.axisBottom(xC).tickValues(massTicks).tickSize(7).tickFormat(""));
axC.select(".domain").remove();
axC.selectAll(".tick line").attr("stroke", "#000").attr("stroke-width", 2);
massTickLabels.forEach((t, k) => {
  if (k === 0) axisText(gC, xC(t) + 11, 1266, t, "middle");
  else axisText(gC, xC(t) - 3, 1266, t, "end");
});
axisText(gC, 2111, 1274, "Mass (kDa)", "middle");
addText(gC, 1765, 42, "(c)", 48, "#000", "middle", { stroke: 0.3 });
</script>
</body>
</html>
